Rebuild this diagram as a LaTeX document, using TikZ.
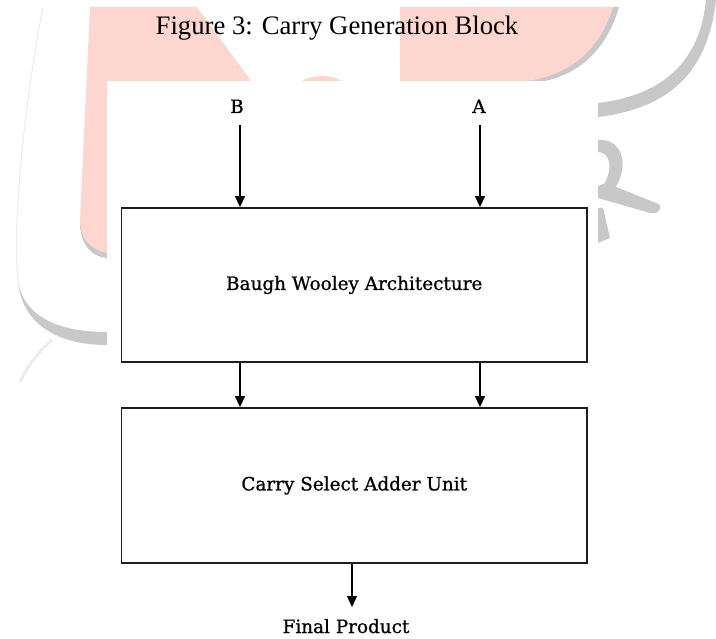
\documentclass[tikz,border=0pt]{standalone}
\usepackage{fontspec}
\setmainfont{Liberation Serif}
\newfontfamily\lblfont[FakeBold=0.8]{DejaVu Serif}
\usetikzlibrary{arrows.meta}
\definecolor{wmpink}{RGB}{252,214,207}
\definecolor{wmgrey}{RGB}{200,200,200}
\definecolor{wmfaint}{RGB}{236,236,236}
\begin{document}
\begin{tikzpicture}[x=1pt,y=-1pt,
  blockbox/.style={draw=black!88, line width=1.8pt, minimum width=465.5pt, minimum height=154pt, inner sep=0pt, font=\lblfont\fontsize{18.4}{22}\selectfont},
  lbl/.style={font=\lblfont\fontsize{18.4}{22}\selectfont, inner sep=0pt},
  arr/.style={line width=1.3pt, -{Triangle[width=10pt,length=11pt]}}]
\useasboundingbox (0,0) rectangle (716,639);
\fill[white] (0,0) rectangle (716,639);
% ---------- watermark ----------
% faint outline on the left
\draw[wmfaint, line width=1pt] (43,7) .. controls (25,100) and (12,220) .. (18,282);
\draw[wmfaint, line width=3pt] (52,340) .. controls (40,350) and (28,365) .. (20,382);
% pink left shape with shadow
\fill[wmgrey] (80,222) .. controls (80,245) and (92,257) .. (107,258) -- (107,250) -- cycle;
\fill[wmpink] (90,7) -- (197,7) -- (265,100) -- (107,100) -- (107,253)
  .. controls (92,250) and (80,240) .. (80,220) -- cycle;
\fill[wmpink] (322,102) ellipse [x radius=34, y radius=26];
% pink right shape with shadow
\fill[wmgrey] (606,7) -- (619,7) .. controls (606,52) and (576,78) .. (533,83) -- (527,81) -- cycle;
\fill[wmpink] (400,7) -- (613,7) .. controls (600,50) and (570,75) .. (527,81) -- (400,81) -- cycle;
% big grey arc on the right
\fill[wmgrey] (706,0) .. controls (700,60) and (665,95) .. (598,103) -- (598,117)
  .. controls (672,108) and (708,70) .. (716,0) -- cycle;
% grey arc on the left
\fill[wmgrey] (18,282) .. controls (25,318) and (60,332) .. (107,332) -- (107,345)
  .. controls (55,345) and (22,322) .. (18,282) -- cycle;
% grey R piece
\fill[wmgrey] (598,140) .. controls (622,138) and (630,165) .. (615,188)
  -- (603,186) .. controls (614,168) and (610,152) .. (598,152) -- cycle;
\fill[wmgrey] (598,186) -- (606,183) -- (656,203) .. controls (662,204) and (662,210) .. (656,213)
  -- (650,213) -- (598,198) -- cycle;
\fill[wmgrey] (598,208) -- (603,208) -- (610,238) -- (598,243) -- cycle;
% white panel
\fill[white] (107,81) rectangle (598,639);
% ---------- diagram ----------
\node[anchor=base, font=\fontsize{26.7}{30}\selectfont, inner sep=0pt] (title) at (337,35) {Figure 3: Carry Generation Block};
\node[lbl, anchor=base] (B) at (237,113) {B};
\node[lbl, anchor=base] (A) at (479,113) {A};
\node[blockbox] (bw) at (354.25,285) {Baugh Wooley Architecture};
\node[blockbox, minimum height=155pt] (cs) at (354.25,485.5) {Carry Select Adder Unit};
\node[lbl, anchor=base] (fp) at (346,633) {Final Product};
\coordinate (bin) at (240,125);
\coordinate (ain) at (480,125);
\coordinate (out) at (352,607);
\draw[arr] (bin) -- (bin |- bw.north);
\draw[arr] (ain) -- (ain |- bw.north);
\draw[arr] (bw.south -| bin) -- (cs.north -| bin);
\draw[arr] (bw.south -| ain) -- (cs.north -| ain);
\draw[arr] (cs.south -| out) -- (out);
\end{tikzpicture}
\end{document}
